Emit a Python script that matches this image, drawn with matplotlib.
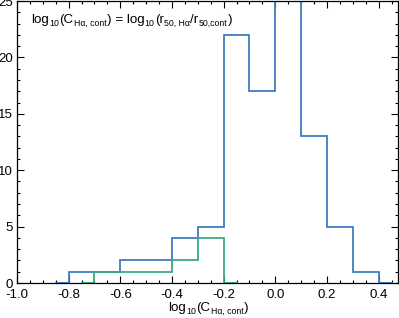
import matplotlib
matplotlib.use("Agg")
import matplotlib.pyplot as plt
import matplotlib.transforms as mtransforms
import numpy as np
from matplotlib.ticker import MultipleLocator

plt.rcParams["font.family"] = ["Liberation Sans", "DejaVu Sans"]
plt.rcParams["axes.unicode_minus"] = False

# bin left edges (width 0.1) and counts
blue_edges = [-0.8, -0.7, -0.6, -0.5, -0.4, -0.3, -0.2, -0.1, 0.0, 0.1, 0.2, 0.3]
blue_counts = [1, 1, 2, 2, 4, 5, 22, 17, 30, 13, 5, 1]
green_edges = [-0.7, -0.6, -0.5, -0.4, -0.3]
green_counts = [1, 1, 1, 2, 4]
bin_width = 0.1
xtick_vals = [-1.0, -0.8, -0.6, -0.4, -0.2, 0.0, 0.2, 0.4]

blue_col = "#3f7dc0"
green_col = "#3aab78"

MAIN, SUB, DROP = 9.6, 6.3, -2.2


def step_xy(edges, counts, w):
    # IDL psym=10 style: half-bin flat at zero on both ends
    xs = [edges[0] - w / 2, edges[0]]
    ys = [0, 0]
    for e, c in zip(edges, counts):
        xs += [e, e + w]
        ys += [c, c]
    xs += [edges[-1] + w, edges[-1] + w + w / 2]
    ys += [0, 0]
    return xs, ys


def place_pieces(ax, x0, y0, pieces, ha="left"):
    # text with small IDL-like subscripts, laid out piece by piece
    fig = ax.figure
    r = fig.canvas.get_renderer()
    widths = []
    for s, size, dy in pieces:
        t = fig.text(0, 0, s, fontsize=size)
        widths.append(t.get_window_extent(r).width * 72 / fig.dpi)
        t.remove()
    acc = -sum(widths) / 2 if ha == "center" else 0.0
    for (s, size, dy), w in zip(pieces, widths):
        tr = mtransforms.offset_copy(ax.transAxes, fig=fig, x=acc, y=dy, units="points")
        ax.text(x0, y0, s, fontsize=size, transform=tr, va="baseline", ha="left", clip_on=False)
        acc += w + 0.2


fig = plt.figure(figsize=(3.99, 3.18), dpi=100)
ax = fig.add_axes([17 / 399, 35 / 318, 381 / 399, 282 / 318])

x, y = step_xy(blue_edges, blue_counts, bin_width)
ax.plot(x, y, color=blue_col, lw=1.3, solid_joinstyle="miter")
x, y = step_xy(green_edges, green_counts, bin_width)
ax.plot(x, y, color=green_col, lw=1.3, solid_joinstyle="miter")

ax.set_xlim(-1.0, 0.475)
ax.set_ylim(0, 25)
ax.set_xticks(xtick_vals)
ax.set_xticklabels([f"{v:.1f}" for v in xtick_vals])
ax.xaxis.set_minor_locator(MultipleLocator(0.05))
ax.yaxis.set_major_locator(MultipleLocator(5))
ax.yaxis.set_minor_locator(MultipleLocator(1))
ax.tick_params(which="both", direction="in", top=True, right=True, labelsize=9.5, width=0.8)
ax.tick_params(axis="x", pad=4)
ax.tick_params(axis="y", pad=3)
ax.tick_params(which="major", length=5)
ax.tick_params(which="minor", length=2.5)
for s in ax.spines.values():
    s.set_linewidth(0.9); s.set_color("black")

place_pieces(ax, 0.5, -0.098, [
    ("log", MAIN, 0), ("10", SUB, DROP), ("(C", MAIN, 0), ("H\u03b1, cont", SUB, DROP), (")", MAIN, 0),
], ha="center")
place_pieces(ax, 0.037, 0.922, [
    ("log", MAIN, 0), ("10", SUB, DROP), ("(C", MAIN, 0), ("H\u03b1, cont", SUB, DROP),
    (") = log", MAIN, 0), ("10", SUB, DROP), ("(r", MAIN, 0), ("50, H\u03b1", SUB, DROP),
    ("/r", MAIN, 0), ("50,cont", SUB, DROP), (")", MAIN, 0),
])

fig.savefig("out.png", dpi=100)
